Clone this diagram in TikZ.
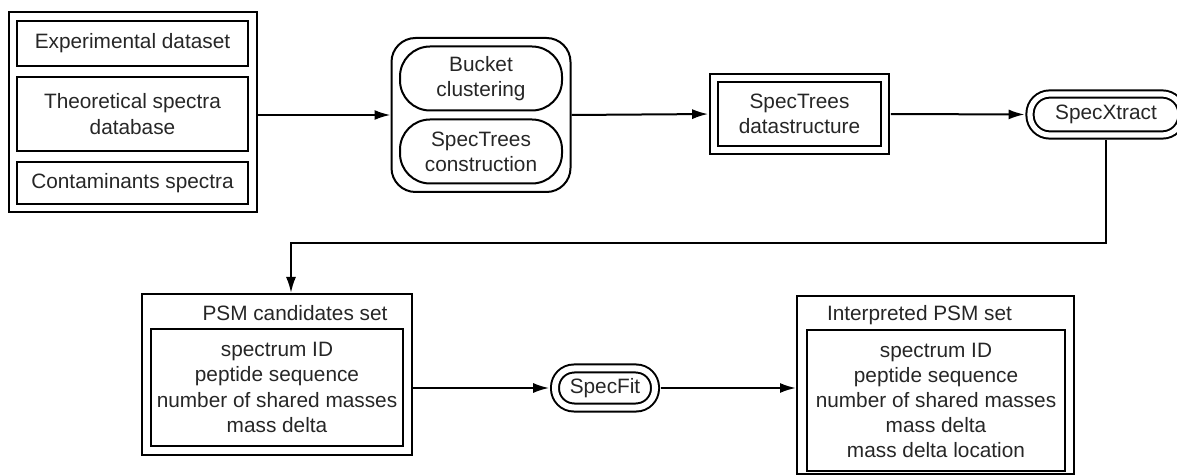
\documentclass[tikz,border=0pt]{standalone}
\usepackage{fontspec}
\setmainfont{Liberation Sans}
\usetikzlibrary{arrows.meta,fit}

\begin{document}
\begin{tikzpicture}[x=0.5pt,y=-0.5pt,font=\fontsize{10.4}{12.6}\selectfont,
  line width=1pt,text=black!85,
  box/.style={draw=black,rectangle,align=center,inner sep=0pt},
  dbox/.style={box,double,double distance=2.9pt},
  softbox/.style={draw=black,rounded corners=12pt,align=center,inner sep=0pt},
  capsule/.style={box,rounded corners=9.9pt,double,double distance=2.6pt},
  arr/.style={-{Latex[length=8pt,width=5pt]}}]
  \useasboundingbox (0,0) rectangle (1177,475);
  % input data
  \node[box,minimum width=115.5pt,minimum height=22.5pt] (exp) at (132.5,43.5) {Experimental dataset};
  \node[box,minimum width=115.5pt,minimum height=37pt] (theo) at (132.5,114) {Theoretical spectra\\database};
  \node[box,minimum width=115.5pt,minimum height=21pt] (cont) at (132.5,183) {Contaminants spectra};
  \node[box,fit=(exp)(theo)(cont),inner sep=3.75pt] (inputs) {};
  % indexing
  \node[softbox,rounded corners=15pt,minimum width=81pt,minimum height=32pt] (bucket) at (481,78.5) {Bucket\\clustering};
  \node[softbox,rounded corners=15pt,minimum width=81pt,minimum height=32pt] (construct) at (481,151.5) {SpecTrees\\construction};
  \node[softbox,fit=(bucket)(construct),inner sep=3.75pt] (indexing) {};
  \node[dbox,minimum width=85.5pt,minimum height=36pt] (trees) at (799.5,114) {SpecTrees\\datastructure};
  \node[capsule,minimum width=76pt,minimum height=20.5pt] (xtract) at (1106,114.5) {SpecXtract};
  % candidates and interpretation
  \node[box,minimum width=135pt,minimum height=80.5pt] (psm) at (277,374.5) {};
  \node (psmtitle) at (295,313) {PSM candidates set};
  \node[box,minimum width=126pt,minimum height=58.5pt] (psmlist) at (277,387.5)
    {spectrum ID\\peptide sequence\\number of shared masses\\mass delta};
  \node[capsule,rounded corners=9.5pt,double distance=3pt,minimum width=50pt,minimum height=19.5pt] (fit) at (605,388) {SpecFit};
  \node[box,minimum width=138.5pt,minimum height=89pt] (interp) at (935.5,385) {};
  \node (interptitle) at (919.5,315) {Interpreted PSM set};
  \node[box,minimum width=129pt,minimum height=70.5pt] (interplist) at (936,400.5)
    {spectrum ID\\peptide sequence\\number of shared masses\\mass delta\\mass delta location};
  % flow
  \draw[arr] (inputs.east |- indexing.west) -- (indexing.west);
  \draw[arr,shorten >=2.4pt] (indexing.east) -- (trees.west);
  \draw[arr,shorten <=2.4pt,shorten >=2.2pt] (trees.east) -- (xtract.west);
  \draw[arr] ([yshift=-2.2pt]xtract.south) -- ++(0,103) -| ([xshift=7pt]psm.north);
  \draw[arr,shorten >=2.4pt] (psm.east |- fit.west) -- (fit.west);
  \draw[arr,shorten <=2.4pt] (fit.east) -- (fit.east -| interp.west);
\end{tikzpicture}
\end{document}
